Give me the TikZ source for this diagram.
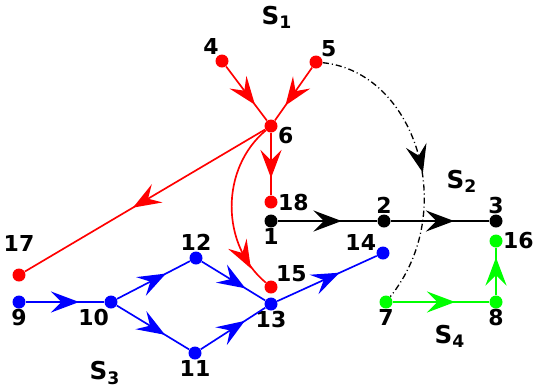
\documentclass[tikz,border=0pt]{standalone}
\usepackage{fontspec}
\setmainfont{DejaVu Sans}
\usetikzlibrary{arrows.meta,decorations.markings}

\begin{document}
\begin{tikzpicture}[x=0.02cm, y=-0.02cm, font=\fontsize{12.5}{14}\selectfont\bfseries,
  >={Stealth[length=16pt, width=12pt, inset=6pt]},
  dot/.style={circle, fill=#1, inner sep=0pt, minimum size=0.26cm, label distance=3.4pt},
  every label/.style={inner sep=0pt},
  sysname/.style={font=\fontsize{14}{16}\selectfont\bfseries},
  arrowat/.style={postaction={decorate}, decoration={markings, mark=at position #1 with {\arrow[xshift=8pt]{>}}}},
  arrowat/.default=0.5,
  wire/.style={line width=0.95pt, color=#1},
  link/.style={wire=#1, arrowat},
  jumplink/.style={line width=0.75pt, dash pattern=on 3.5pt off 1.7pt on 0.6pt off 1.7pt}]
  \useasboundingbox (0,0) rectangle (538,387);
  % S1 (red)
  \foreach \n/\x/\y/\p in {4/222/61/115, 5/316/62/above right, 6/271/126/-8, 18/271/202/right, 15/271/287/above right}
    \node[dot=red, label={\p:\n}] (n\n) at (\x,\y) {};
  \node[dot=red, label={[label distance=9pt]above:17}] (n17) at (19,275) {};
  % S2 (black)
  \foreach \n/\x/\y/\p in {1/271/221/below, 2/384/221/above, 3/496/221/above}
    \node[dot=black, label={\p:\n}] (n\n) at (\x,\y) {};
  % S3 (blue)
  \foreach \n/\x/\y/\p in {9/19/302/below, 10/111/302/-105, 11/195/353/below, 12/196/258/above, 13/271/304/below, 14/383/253/165}
    \node[dot=blue, label={\p:\n}] (n\n) at (\x,\y) {};
  % S4 (green)
  \foreach \n/\x/\y/\p in {7/386/302/below, 8/496/302/below, 16/496/241/right}
    \node[dot=green, label={\p:\n}] (n\n) at (\x,\y) {};
  % subsystem names
  \node[sysname] (s1) at (277,17) {S\textsubscript{1}};
  \node[sysname] (s2) at (462,181) {S\textsubscript{2}};
  \node[sysname] (s3) at (105,373) {S\textsubscript{3}};
  \node[sysname] (s4) at (450,336) {S\textsubscript{4}};
  % connections
  \draw[link=red] (n4) -- (n6);
  \draw[link=red] (n5) -- (n6);
  \draw[link=red] (n6) -- (n18);
  \draw[link=red] (n6) -- (n17);
  \draw[wire=red, arrowat=0.8] (n6) to[bend right=50] (n15);
  \draw[link=black] (n1) -- (n2);
  \draw[link=black] (n2) -- (n3);
  \draw[link=blue] (n9) -- (n10);
  \draw[link=blue] (n10) -- (n12);
  \draw[link=blue] (n12) -- (n13);
  \draw[link=blue] (n10) -- (n11);
  \draw[link=blue] (n11) -- (n13);
  \draw[link=blue] (n13) -- (n14);
  \draw[link=green] (n7) -- (n8);
  \draw[link=green] (n8) -- (n16);
  \draw[jumplink, arrowat] (n5) .. controls (415,72) and (460,210) .. (n7);
\end{tikzpicture}
\end{document}
